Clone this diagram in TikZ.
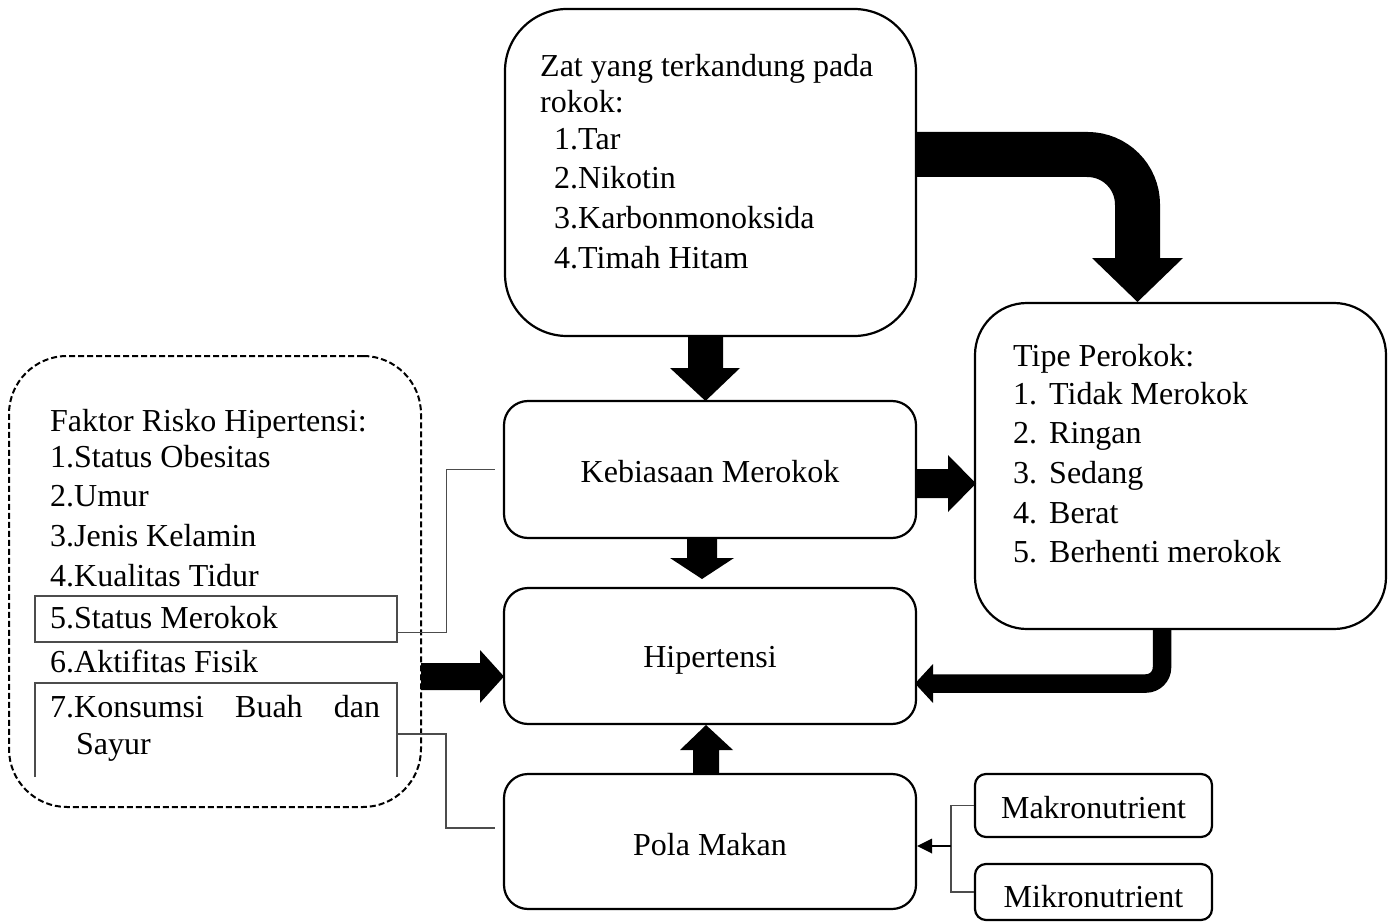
\documentclass[tikz,border=0pt]{standalone}
\usepackage{fontspec}
\setmainfont{Liberation Serif}
\begin{document}
\begin{tikzpicture}[x=1pt,y=-1pt,
  rbox/.style={draw, line width=2.2pt, rounded corners=#1, inner sep=0pt},
  rbox/.default=24pt,
  txt/.style={anchor=base west, inner sep=0pt, font=\fontsize{32}{39}\selectfont},
  ctxt/.style={anchor=base, inner sep=0pt, font=\fontsize{32}{39}\selectfont},
  thin/.style={draw=black!70, line width=1.3pt},
  blk/.style={fill=black}
]
\useasboundingbox (0,0) rectangle (1393,923);

% ---------- boxes ----------
\node[rbox=62pt, minimum width=411pt, minimum height=327pt] (zat) at (710.5,172.5) {};
\node[rbox=24pt, minimum width=412pt, minimum height=137pt] (keb) at (710,469.5) {};
\node[rbox=24pt, minimum width=412pt, minimum height=136pt] (hip) at (710,656) {};
\node[rbox=24pt, minimum width=412pt, minimum height=135pt] (pola) at (710,841.5) {};
\node[rbox=52pt, minimum width=411pt, minimum height=326pt] (tipe) at (1180.5,466) {};
\node[rbox=11pt, minimum width=237pt, minimum height=63pt] (makro) at (1093.5,805.5) {};
\node[rbox=11pt, minimum width=237pt, minimum height=56pt] (mikro) at (1093.5,892) {};
\node[draw, line width=2pt, dash pattern=on 6pt off 3pt, rounded corners=58pt, inner sep=0pt,
      minimum width=412pt, minimum height=451pt] (faktor) at (215,581.5) {};

% status merokok rectangle and open konsumsi frame
\node[thin, inner sep=0pt, minimum width=362pt, minimum height=46pt] (smbox) at (216,619) {};
\coordinate (kbl) at (35,777);
\coordinate (kbr) at (397,777);
\coordinate (kbc) at (397,734);
\draw[thin] (kbl) -- (35,683) -- (397,683) -- (kbr);

% ---------- texts ----------
\node[txt] (z1) at (540,77) {Zat yang terkandung pada};
\node[txt] (z2) at (540,113) {rokok:};
\node[txt] (z3) at (554,150) {1.Tar};
\node[txt] (z4) at (554,189) {2.Nikotin};
\node[txt] (z5) at (554,228) {3.Karbonmonoksida};
\node[txt] (z6) at (554,268) {4.Timah Hitam};

\node[ctxt] (tkeb) at (710,482) {Kebiasaan Merokok};
\node[ctxt] (thip) at (710,667) {Hipertensi};
\node[ctxt] (tpola) at (710,855) {Pola Makan};
\node[ctxt] (tmakro) at (1093.5,818) {Makronutrient};
\node[ctxt] (tmikro) at (1093.5,907) {Mikronutrient};

\node[txt] (t0) at (1013,366) {Tipe Perokok:};
\node[txt] (t1) at (1013,404) {\makebox[36pt][l]{1.}Tidak Merokok};
\node[txt] (t2) at (1013,443) {\makebox[36pt][l]{2.}Ringan};
\node[txt] (t3) at (1013,483) {\makebox[36pt][l]{3.}Sedang};
\node[txt] (t4) at (1013,523) {\makebox[36pt][l]{4.}Berat};
\node[txt] (t5) at (1013,562) {\makebox[36pt][l]{5.}Berhenti merokok};

\node[txt] (f0) at (50,431) {Faktor Risko Hipertensi:};
\node[txt] (f1) at (50,467) {1.Status Obesitas};
\node[txt] (f2) at (50,506) {2.Umur};
\node[txt] (f3) at (50,546) {3.Jenis Kelamin};
\node[txt] (f4) at (50,586) {4.Kualitas Tidur};
\node[txt] (f5) at (50,628) {5.Status Merokok};
\node[txt] (f6) at (50,672) {6.Aktifitas Fisik};
\node[txt] (f7) at (50,717) {\makebox[330pt][s]{7.Konsumsi Buah dan}};
\node[txt] (f8) at (76,754) {Sayur};

% ---------- thin connectors ----------
\draw[thin] ([yshift=10pt]smbox.south east) -- ++(49,0) |- ([xshift=-8pt]keb.west);
\draw[thin] (kbc) -- ++(49,0) |- ([xshift=-8pt,yshift=13.5pt]pola.west);

\coordinate (br) at (951,846);
\draw[thin, line width=1.2pt] (makro.west) -| (br) |- (mikro.west);
\draw[line width=1.2pt] (br) -- (932,846);
\fill (hip.east |- pola.east) ++(0,4.5) -- (932,838.5) -- (932,853.5) -- cycle;

% ---------- block arrows ----------
% zat -> keb
\fill[blk] (688,337) -- (723,337) -- (723,368) -- (740,368) -- (705.5,401) -- (670,368) -- (688,368) -- cycle;
% keb -> hip
\fill[blk] (687,539) -- (717,539) -- (717,558) -- (734,558) -- (702,579) -- (670,558) -- (687,558) -- cycle;
% pola -> hip
\fill[blk] (693,773) -- (719,773) -- (719,750) -- (733,750) -- (706,725) -- (680,750) -- (693,750) -- cycle;
% faktor -> hip
\fill[blk] (421,663) -- (480,663) -- (480,650) -- (504,676.5) -- (480,703) -- (480,690) -- (421,690) -- cycle;
% keb -> tipe
\fill[blk] (917,469) -- (948,469) -- (948,455) -- (976,483.5) -- (948,512) -- (948,498) -- (917,498) -- cycle;
% zat -> tipe (bent)
\draw[line width=45pt, rounded corners=50pt] (zat.east |- 0,154.5) -| (1137.5,258);
\fill[blk] (1092,258) -- (1183,258) -- (1137.5,302) -- cycle;
% tipe -> hip (bent)
\draw[line width=18.5pt, rounded corners=16pt] (1162,630) |- (933,683.5);
\fill[blk] (933,664) -- (933,703) -- (915,683.5) -- cycle;
\end{tikzpicture}
\end{document}
